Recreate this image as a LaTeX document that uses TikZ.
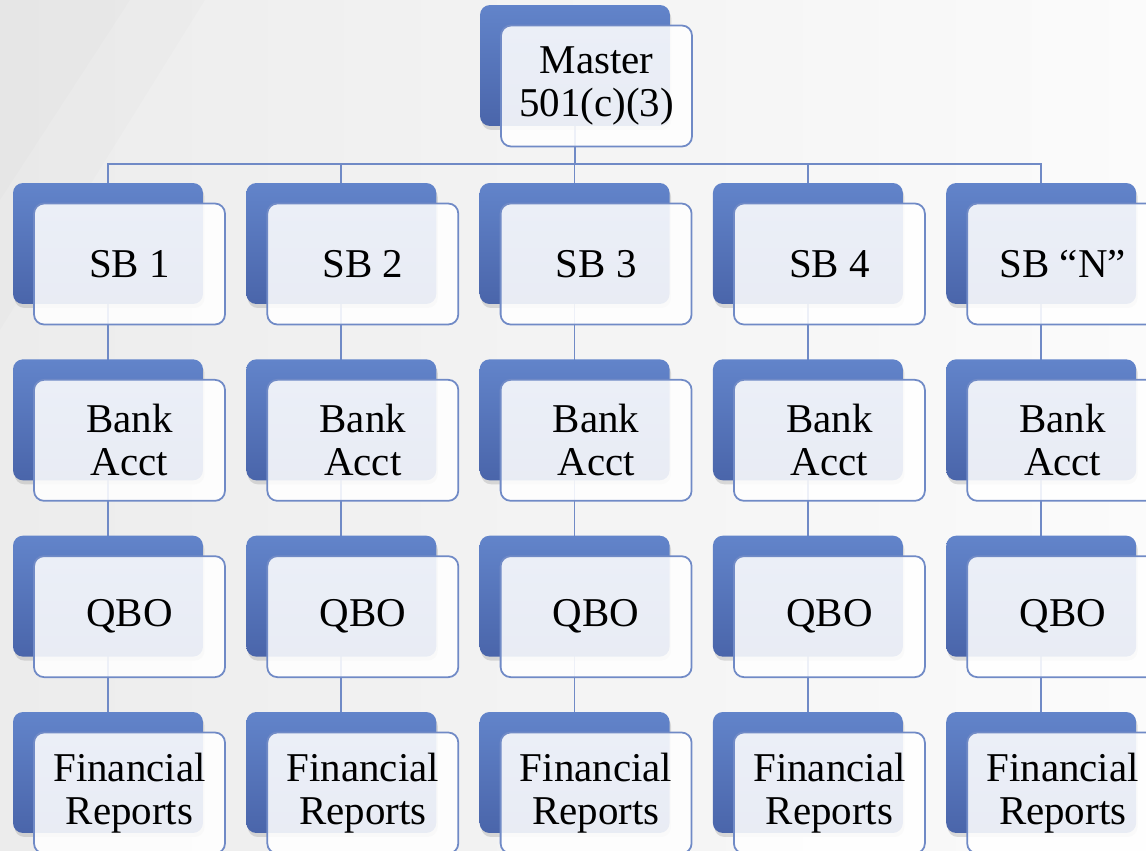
\documentclass[tikz,border=0pt]{standalone}
\usepackage{fontspec}
\setmainfont{Liberation Serif}
\usetikzlibrary{positioning,shadows}
\definecolor{sbblue}{RGB}{98,132,202}
\definecolor{sbdark}{RGB}{74,101,170}
\definecolor{sbline}{RGB}{112,138,198}
\definecolor{sbbgl}{RGB}{236,236,236}
\definecolor{sbbgr}{RGB}{251,251,251}
\pgfdeclarelayer{sbbg}\pgfdeclarelayer{sblinks}
\pgfsetlayers{sbbg,sblinks,main}
\tikzset{
	sbback/.style={rectangle,rounded corners=0.2cm,minimum width=3.8cm,minimum height=2.42cm,inner sep=0pt,
		top color=sbblue,bottom color=sbdark,draw=none,
		drop shadow={shadow xshift=0.03cm,shadow yshift=-0.08cm,opacity=0.25}},
	sbfront/.style={rectangle,rounded corners=0.2cm,minimum width=3.82cm,minimum height=2.42cm,inner sep=0pt,
		fill=white,fill opacity=0.88,text opacity=1,draw=sbline,line width=1pt,align=center,
		font=\fontsize{23.3}{24.4}\selectfont},
	sblink/.style={draw=sbline,line width=1pt}
}
\begin{document}
\begin{tikzpicture}[x=0.02cm,y=-0.02cm]
			\def\sbx{108}\def\sbcol{233.3}\def\sby{243.5}\def\sbrow{176.33}
			\def\sbdx{21.5}\def\sbdy{20.5}
			\useasboundingbox (0,0) rectangle (1146,851);
			\begin{pgfonlayer}{sbbg}
			\fill[left color=sbbgl,right color=sbbgr] (0,0) rectangle (1146,851);
			\fill[black,opacity=0.012] (0,0) -- (205,0) -- (0,330) -- cycle;
			\fill[black,opacity=0.012] (0,0) -- (130,0) -- (0,200) -- cycle;
			\end{pgfonlayer}
			% master
			\node[sbback] (mab) at (575,65.5) {};
			\node[sbfront] (ma) at (575+\sbdx,65.5+\sbdy) {Master\\501(c)(3)};
			% SB row
			\node[sbback] (s1b) at (\sbx,\sby) {};
			\node[sbfront] (s1) at (\sbx+\sbdx,\sby+\sbdy) {SB 1};
			\node[sbback] (s2b) at (\sbx+\sbcol,\sby) {};
			\node[sbfront] (s2) at (\sbx+\sbcol+\sbdx,\sby+\sbdy) {SB 2};
			\node[sbback] (s3b) at (\sbx+2*\sbcol,\sby) {};
			\node[sbfront] (s3) at (\sbx+2*\sbcol+\sbdx,\sby+\sbdy) {SB 3};
			\node[sbback] (s4b) at (\sbx+3*\sbcol,\sby) {};
			\node[sbfront] (s4) at (\sbx+3*\sbcol+\sbdx,\sby+\sbdy) {SB 4};
			\node[sbback] (s5b) at (\sbx+4*\sbcol,\sby) {};
			\node[sbfront] (s5) at (\sbx+4*\sbcol+\sbdx,\sby+\sbdy) {SB ``N''};
			% bank row
			\node[sbback] (b1b) at (\sbx,\sby+\sbrow) {};
			\node[sbfront] (b1) at (\sbx+\sbdx,\sby+\sbrow+\sbdy) {Bank\\Acct};
			\node[sbback] (b2b) at (\sbx+\sbcol,\sby+\sbrow) {};
			\node[sbfront] (b2) at (\sbx+\sbcol+\sbdx,\sby+\sbrow+\sbdy) {Bank\\Acct};
			\node[sbback] (b3b) at (\sbx+2*\sbcol,\sby+\sbrow) {};
			\node[sbfront] (b3) at (\sbx+2*\sbcol+\sbdx,\sby+\sbrow+\sbdy) {Bank\\Acct};
			\node[sbback] (b4b) at (\sbx+3*\sbcol,\sby+\sbrow) {};
			\node[sbfront] (b4) at (\sbx+3*\sbcol+\sbdx,\sby+\sbrow+\sbdy) {Bank\\Acct};
			\node[sbback] (b5b) at (\sbx+4*\sbcol,\sby+\sbrow) {};
			\node[sbfront] (b5) at (\sbx+4*\sbcol+\sbdx,\sby+\sbrow+\sbdy) {Bank\\Acct};
			% QBO row
			\node[sbback] (q1b) at (\sbx,\sby+2*\sbrow) {};
			\node[sbfront] (q1) at (\sbx+\sbdx,\sby+2*\sbrow+\sbdy) {QBO};
			\node[sbback] (q2b) at (\sbx+\sbcol,\sby+2*\sbrow) {};
			\node[sbfront] (q2) at (\sbx+\sbcol+\sbdx,\sby+2*\sbrow+\sbdy) {QBO};
			\node[sbback] (q3b) at (\sbx+2*\sbcol,\sby+2*\sbrow) {};
			\node[sbfront] (q3) at (\sbx+2*\sbcol+\sbdx,\sby+2*\sbrow+\sbdy) {QBO};
			\node[sbback] (q4b) at (\sbx+3*\sbcol,\sby+2*\sbrow) {};
			\node[sbfront] (q4) at (\sbx+3*\sbcol+\sbdx,\sby+2*\sbrow+\sbdy) {QBO};
			\node[sbback] (q5b) at (\sbx+4*\sbcol,\sby+2*\sbrow) {};
			\node[sbfront] (q5) at (\sbx+4*\sbcol+\sbdx,\sby+2*\sbrow+\sbdy) {QBO};
			% reports row
			\node[sbback] (f1b) at (\sbx,\sby+3*\sbrow) {};
			\node[sbfront] (f1) at (\sbx+\sbdx,\sby+3*\sbrow+\sbdy) {Financial\\Reports};
			\node[sbback] (f2b) at (\sbx+\sbcol,\sby+3*\sbrow) {};
			\node[sbfront] (f2) at (\sbx+\sbcol+\sbdx,\sby+3*\sbrow+\sbdy) {Financial\\Reports};
			\node[sbback] (f3b) at (\sbx+2*\sbcol,\sby+3*\sbrow) {};
			\node[sbfront] (f3) at (\sbx+2*\sbcol+\sbdx,\sby+3*\sbrow+\sbdy) {Financial\\Reports};
			\node[sbback] (f4b) at (\sbx+3*\sbcol,\sby+3*\sbrow) {};
			\node[sbfront] (f4) at (\sbx+3*\sbcol+\sbdx,\sby+3*\sbrow+\sbdy) {Financial\\Reports};
			\node[sbback] (f5b) at (\sbx+4*\sbcol,\sby+3*\sbrow) {};
			\node[sbfront] (f5) at (\sbx+4*\sbcol+\sbdx,\sby+3*\sbrow+\sbdy) {Financial\\Reports};
			% links
			\begin{pgfonlayer}{sblinks}
			\coordinate (bus) at (575,164);
			\draw[sblink] (mab.center) -- (mab.center |- bus);
			\draw[sblink] (s1b.center) |- (bus) (s2b.center) |- (bus) (s3b.center) |- (bus)
			(s4b.center) |- (bus) (s5b.center) |- (bus);
			\draw[sblink] (s1b.center) -- (b1b.center) -- (q1b.center) -- (f1b.center)
			(s2b.center) -- (b2b.center) -- (q2b.center) -- (f2b.center)
			(s3b.center) -- (b3b.center) -- (q3b.center) -- (f3b.center)
			(s4b.center) -- (b4b.center) -- (q4b.center) -- (f4b.center)
			(s5b.center) -- (b5b.center) -- (q5b.center) -- (f5b.center);
			\end{pgfonlayer}
\end{tikzpicture}
\end{document}
